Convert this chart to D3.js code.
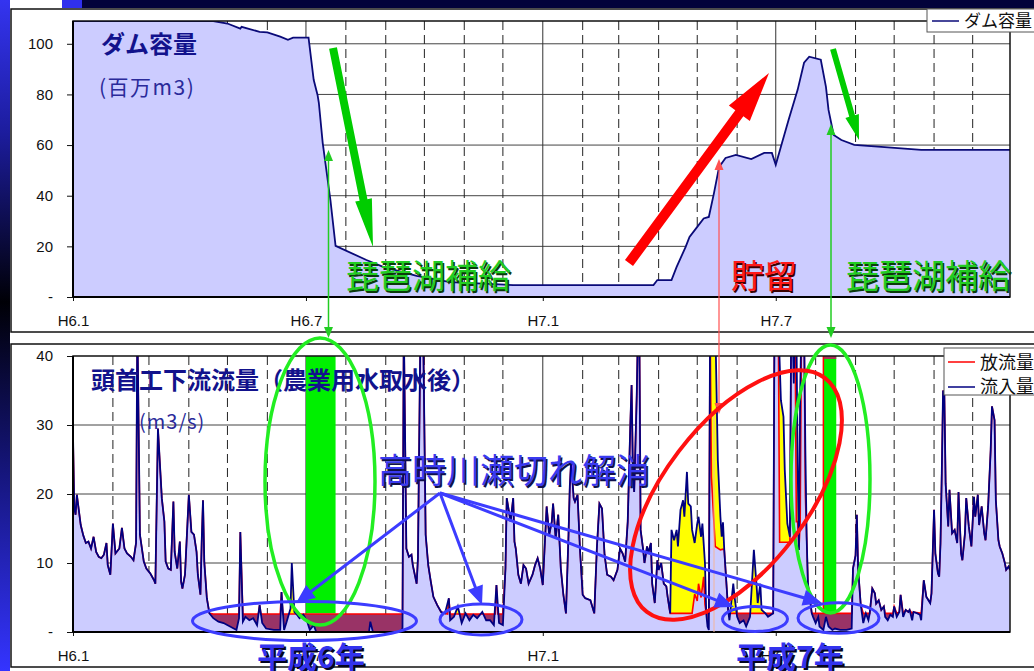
<!DOCTYPE html>
<html><head><meta charset="utf-8">
<script src="https://cdn.jsdelivr.net/npm/d3@7"></script>
<style>body{margin:0;background:#fff;}svg{display:block;}</style>
</head><body>
<svg id="c" width="1034" height="671"></svg>
<script>
// ---------------- DATA ----------------
// day offsets from H6.1 (1994-01-01)
const monthStarts = [0,31,59,90,120,151,181,212,243,273,304,334,365,396,424,455,485,516,546,577,608,638,669,699];
const halfYearTicks = [0,181,365,546];
const halfYearLabels = ["H6.1","H6.7","H7.1","H7.7"];
const damTicks = [0,20,40,60,80,100];
const flowTicks = [0,10,20,30,40];

// ダム容量 (百万m3): [day, value]
const damVolume = [[0,109],[109,109],[120,108],[130,106],[131,106.7],[145,104.7],[151,104.5],[161,102.8],[167,101.6],[171,102.4],[183,102.4],[187,85.8],[190,79.8],[191,76.7],[194,60.9],[200,38.3],[204,20.2],[228,14.6],[241,11.9],[267,8.3],[293,5.9],[342,4.7],[451,4.7],[454,6.7],[465,6.7],[469,11.9],[476,19.8],[479,23.7],[485,27.7],[490,31],[494,31.6],[498,41],[502,51.4],[507,54.9],[515,56.1],[527,54.5],[537,56.9],[543,56.9],[546,52.2],[550,59.3],[556,70],[563,81.8],[568,92.5],[572,94.9],[581,93.7],[585,83],[587,73.9],[591,64],[597,62],[607,60.1],[628,59.3],[659,58.1],[728,58.1]];

// 流入量 (m3/s): [day, value]
const inflow = [[0,28.5],[1,17.9],[2,17],[3,19.9],[6,15.5],[8,14],[10,12.9],[12,13.1],[14,12.1],[16,13.8],[18,11.6],[20,10.9],[22,10.7],[24,11.2],[26,12.9],[27,9.7],[29,8.3],[31,15.7],[33,11.4],[36,12.1],[38,15.1],[40,12.1],[42,11.4],[45,10.9],[47,10.4],[49,12.9],[50,45],[52,14.1],[55,10.2],[57,9.2],[60,8.5],[63,7.5],[64,7],[66,29.5],[68,22.8],[69,19.4],[71,16],[72,10.2],[74,9.2],[76,9],[78,18.9],[79,11.6],[81,9.2],[83,13.1],[84,7.3],[85,6.3],[87,8.3],[89,16],[90,19.9],[92,14.5],[94,14.1],[96,11.6],[97,8.3],[99,5.4],[100,13.1],[101,19.1],[102,10.2],[104,4.9],[106,2.7],[109,2],[113,1.5],[117,1.3],[122,0.8],[127,0.3],[129,2],[130,14.5],[132,1.5],[134,2.2],[137,1.7],[140,2],[143,1],[145,3.9],[147,1.3],[150,0.5],[156,0.3],[161,0.3],[162,5.8],[164,0.3],[166,1.5],[169,3.4],[170,10],[172,2.9],[174,2.5],[176,2],[179,2.5],[182,1.5],[184,0.3],[187,1],[189,0],[230,0],[231,1.5],[233,0],[254,0],[256,0.5],[257,45],[259,12.1],[261,10.9],[263,11.2],[264,9.7],[267,7],[268,10.7],[270,45],[272,45],[274,14.1],[276,9.7],[278,7.3],[280,5.1],[283,3.9],[286,2.9],[289,2.7],[292,4.9],[293,1.7],[296,2.2],[299,3.7],[302,1.3],[305,2.7],[308,1.7],[311,2.5],[314,2],[318,2.9],[321,1.7],[324,1.7],[327,1],[329,6.8],[331,1.3],[334,1],[336,9.2],[337,19.4],[340,16],[342,19.4],[343,13.1],[344,12.1],[346,8.3],[348,7],[350,9.7],[352,9.2],[354,7],[357,8.3],[359,9.7],[361,10.7],[363,9.2],[365,6.8],[368,18.2],[370,14.1],[372,16],[373,18.6],[375,13.6],[377,17],[379,9.2],[381,5.4],[383,2.7],[385,14.1],[386,21.1],[387,24.7],[389,19.4],[390,18.9],[392,19.9],[394,11.6],[396,5.4],[398,4.9],[402,4.6],[405,2.7],[407,12.1],[409,18.6],[411,17.9],[413,11.2],[415,8.3],[418,8],[420,7.5],[423,9],[425,12.1],[427,11.4],[429,10.2],[431,16],[433,30],[434,35.8],[435,23.7],[436,20.3],[438,34.3],[439,45],[440,45],[441,14.8],[443,11.9],[444,10],[446,12.4],[447,11.4],[449,12.9],[450,7],[452,4.2],[454,10.4],[455,9],[457,10],[459,7],[461,6.6],[462,5.1],[464,2.7],[465,14.8],[467,13.3],[469,14.8],[470,12.4],[472,17.7],[474,19.1],[475,16.7],[477,23.2],[478,18.6],[480,18.2],[481,14.8],[483,12.9],[485,15.7],[486,16.7],[488,13.8],[489,15.7],[491,10],[492,2.7],[493,0.8],[494,0.3],[495,45],[499,45],[501,24.9],[503,16.7],[504,13.8],[505,15.9],[506,11.9],[508,6.1],[509,3.2],[510,1.7],[513,7],[514,5.1],[516,2.2],[518,1.3],[521,1.7],[523,0.8],[526,2.2],[529,11.9],[531,7],[532,4.2],[534,7],[535,3.2],[538,2.7],[540,2.2],[544,2.7],[545,45],[548,45],[550,33.6],[552,31.2],[553,23.5],[555,15.7],[557,13.8],[558,45],[559,45],[560,36],[561,45],[562,45],[563,24.4],[564,11.9],[565,35],[566,45],[568,45],[569,26.4],[570,13.8],[571,7],[573,4.2],[574,2.7],[575,2.2],[577,1.3],[579,2.2],[580,0.8],[583,0.3],[585,2.2],[587,0.8],[590,0.3],[592,0.5],[596,0.3],[601,0.3],[605,0.5],[606,9.2],[608,11.1],[609,17],[610,9.2],[612,4],[614,1.3],[616,2.7],[618,1.7],[619,2.7],[621,6.3],[623,5.6],[624,4.1],[626,4.6],[628,3.2],[630,3.7],[631,2.2],[633,1.7],[635,2.5],[637,2.2],[638,3.7],[640,2.2],[642,2.9],[643,5.4],[645,2.2],[647,3.2],[649,2.9],[650,3.2],[652,1.7],[653,2.9],[656,2.7],[658,2.5],[659,1.7],[661,7.5],[663,5.1],[666,4.2],[667,5.6],[669,17.7],[670,11.4],[672,8.5],[673,8],[674,12.9],[675,23],[676,35],[677,34.3],[678,21.5],[680,15.3],[681,20.6],[683,14.3],[685,14.8],[687,12.9],[688,20.3],[690,11.4],[691,10.4],[693,14.3],[694,19.4],[696,15.3],[698,12.4],[700,19.6],[701,16.7],[703,19.9],[704,15.5],[706,18.2],[708,14.3],[709,13.3],[711,18.2],[713,26.4],[714,32.7],[716,30.7],[717,19.1],[719,13.3],[720,12.4],[722,11.4],[724,10],[725,9],[727,9.5],[728,9]];

// 放流量 (m3/s): equal to 流入量 except in these periods, where it was read separately
const releaseDrought94a = [[106,2.7],[109,2.6],[129,2.6],[130,14.5],[132,2.6],[144,2.6],[145,3.9],[146,2.6],[161,2.6],[162,5.8],[163,2.6],[256,2.6]];
const releaseDrought94b = [[283,3.9],[286,2.9],[289,2.7],[291,2.6],[292,4.9],[293,2.6],[328,2.6],[329,6.8],[330,2.6],[334,2.6]];
const releaseStorage95a = [[462,5.1],[464,2.7],[481,2.7],[483,5.5],[485,4.5],[486,7],[488,5],[490,8],[491,4],[492,2.7],[494,2.7],[495,45],[496,22.5],[499,12.4],[503,11.9],[505,12]];
const releaseDrought95a = [[509,3.2],[510,2.7],[544,2.7]];
const releaseStorage95b = [[545,45],[548,45],[549,13],[557,13],[558,45],[561,45],[562,16],[563,16],[564,11.9],[565,16],[566,45],[568,45],[569,20],[570,13.8],[571,7],[573,4.2]];
const releaseDrought95b = [[574,2.7],[605,2.7]];
const releaseLate95a = [[612,4],[614,2.7],[619,2.7],[621,6.3]];
const releaseLate95b = [[631,2.7],[637,2.7],[638,3.7],[640,2.7],[642,2.9],[643,5.4],[645,2.7],[647,3.2],[649,2.9],[650,3.2],[652,2.7],[653,2.9],[659,2.7]];
const releasePeriods = [releaseDrought94a,releaseDrought94b,releaseStorage95a,releaseDrought95a,releaseStorage95b,releaseDrought95b,releaseLate95a,releaseLate95b];

// 琵琶湖補給 periods (off-scale release), [startDay, endDay], base value
const biwaSupply = [[181,204],[583,593]];
const biwaBase = 2.7;

// ---------------- BUILD ----------------
const release = inflow
  .filter(([d]) => !releasePeriods.some(s => d >= s[0][0] && d <= s[s.length-1][0]))
  .concat(...releasePeriods)
  .sort((a,b) => a[0]-b[0]);

const svg = d3.select('#c');
const defs = svg.append('defs');
const JP = '"Noto Sans CJK JP","Noto Sans CJK SC",sans-serif';
const LAT = '"Liberation Sans",Arial,sans-serif';

const X0 = 73, X1 = 1010;
const x = d3.scaleLinear().domain([0,728]).range([X0,X1]);
const yT = d3.scaleLinear().domain([0,109]).range([297,21]);
const yB = d3.scaleLinear().domain([0,40]).range([632,356]);

// background decorations
const lg = defs.append('linearGradient').attr('id','lg').attr('x1',0).attr('y1',0).attr('x2',0).attr('y2',1);
lg.append('stop').attr('offset','0').attr('stop-color','#3434f0');
lg.append('stop').attr('offset','0.2').attr('stop-color','#1c1c9c');
lg.append('stop').attr('offset','0.45').attr('stop-color','#000006');
lg.append('stop').attr('offset','0.7').attr('stop-color','#15157a');
lg.append('stop').attr('offset','1').attr('stop-color','#3434ff');
svg.append('rect').attr('x',0).attr('y',0).attr('width',10).attr('height',671).attr('fill','url(#lg)');
svg.append('rect').attr('x',62).attr('y',0).attr('width',20).attr('height',8).attr('fill','#3030ee');
svg.append('rect').attr('x',82).attr('y',0).attr('width',952).attr('height',8).attr('fill','#02023a');

// frames
[[9,323],[344,323]].forEach(([yy,h]) => svg.append('rect').attr('x',11).attr('y',yy).attr('width',1040).attr('height',h)
  .attr('fill','#fff').attr('stroke','#111').attr('stroke-width',1.5));

function clip(id, yScale){
  const [b,t] = yScale.range();
  defs.append('clipPath').attr('id',id).append('rect').attr('x',X0).attr('y',t).attr('width',X1-X0).attr('height',b-t);
}
clip('cT', yT); clip('cB', yB);

function drawGrid(yScale, ticks){
  const [b,t] = yScale.range();
  const g = svg.append('g');
  ticks.filter(v => v > 0 && yScale(v) > t + 1).forEach(v => g.append('line')
    .attr('x1',X0).attr('x2',X1).attr('y1',yScale(v)).attr('y2',yScale(v)).attr('stroke','#444').attr('stroke-width',1));
  monthStarts.filter(d => d > 0).forEach(d => {
    const major = halfYearTicks.includes(d);
    g.append('line').attr('x1',x(d)).attr('x2',x(d)).attr('y1',t).attr('y2',b)
      .attr('stroke', major ? '#333' : '#222').attr('stroke-width',1)
      .attr('stroke-dasharray', major ? null : '9,5');
  });
}
function drawAxes(yScale, ticks){
  const [b,t] = yScale.range();
  const ay = svg.append('g').attr('transform',`translate(${X0},0)`)
    .call(d3.axisLeft(yScale).tickValues(ticks).tickFormat(v => v === 0 ? '-' : v).tickSize(6).tickPadding(14));
  ay.select('.domain').remove();
  ay.attr('font-size',15).attr('font-family',LAT);
  ay.selectAll('text').attr('fill','#111');
  ay.selectAll('line').attr('stroke','#111');
  const ax = svg.append('g').attr('transform',`translate(0,${b})`)
    .call(d3.axisBottom(x).tickValues(halfYearTicks).tickFormat((d,i) => halfYearLabels[i]).tickSize(4).tickPadding(14));
  ax.select('.domain').remove();
  ax.attr('font-size',15).attr('font-family',LAT);
  ax.selectAll('text').attr('fill','#111');
  ax.selectAll('line').attr('stroke','#111');
  svg.append('rect').attr('x',X0).attr('y',t).attr('width',X1-X0).attr('height',b-t)
    .attr('fill','none').attr('stroke','#111').attr('stroke-width',1.5);
  svg.append('line').attr('x1',X0).attr('x2',X0).attr('y1',t).attr('y2',b).attr('stroke','#000').attr('stroke-width',2);
  svg.append('line').attr('x1',X0).attr('x2',X1).attr('y1',b).attr('y2',b).attr('stroke','#000').attr('stroke-width',2);
}

// ---------- TOP PANEL ----------
drawGrid(yT, damTicks);
const gT = svg.append('g').attr('clip-path','url(#cT)');
gT.append('path').datum(damVolume)
  .attr('d', d3.area().x(d => x(d[0])).y0(yT(0)).y1(d => yT(d[1])))
  .attr('fill','#ccccff');
gT.append('path').datum(damVolume)
  .attr('d', d3.line().x(d => x(d[0])).y(d => yT(d[1])))
  .attr('fill','none').attr('stroke','#0a0a78').attr('stroke-width',1.8);
drawAxes(yT, damTicks);

// ---------- BOTTOM PANEL ----------
drawGrid(yB, flowTicks);
const areaGen = d3.area().x(d => x(d[0])).y0(yB(0)).y1(d => yB(d[1]));
const lineGen = d3.line().x(d => x(d[0])).y(d => yB(d[1]));
defs.append('clipPath').attr('id','relClip').append('path').attr('d', areaGen(release));
const gB = svg.append('g').attr('clip-path','url(#cB)');
gB.append('path').attr('d', areaGen(release)).attr('fill','#993366');
gB.append('path').attr('d', areaGen(inflow)).attr('fill','#ffff00');
gB.append('path').attr('d', areaGen(inflow)).attr('fill','#ccccff').attr('clip-path','url(#relClip)');
biwaSupply.forEach(([s,e], i) => {
  gB.append('rect').attr('x',x(s)).attr('width',x(e)-x(s)).attr('y',yB(40)).attr('height',yB(biwaBase)-yB(40)).attr('fill','#00f000');
  if (i === 1) {
    gB.append('rect').attr('x',x(s)).attr('width',x(e)-x(s)).attr('y',yB(40)).attr('height',3).attr('fill','#aa3355');
    gB.append('line').attr('x1',x(s)).attr('x2',x(s)).attr('y1',yB(40)).attr('y2',yB(biwaBase)).attr('stroke','#ff0000').attr('stroke-width',1.5);
  }
});
gB.append('path').attr('d', lineGen(release)).attr('fill','none').attr('stroke','#ff0000').attr('stroke-width',1.6);
gB.append('path').attr('d', lineGen(inflow)).attr('fill','none').attr('stroke','#000080').attr('stroke-width',1.8);
drawAxes(yB, flowTicks);

// ---------- LEGENDS ----------
svg.append('rect').attr('x',927).attr('y',9).attr('width',120).attr('height',23).attr('fill','#fff').attr('stroke','#555').attr('stroke-width',1);
svg.append('line').attr('x1',932).attr('x2',959).attr('y1',21).attr('y2',21).attr('stroke','#0a0a78').attr('stroke-width',1.5);
svg.append('text').attr('x',964).attr('y',27).attr('font-size',17).attr('font-family',JP).attr('fill','#111').text('ダム容量');
svg.append('rect').attr('x',944).attr('y',348).attr('width',100).attr('height',47).attr('fill','#fff').attr('stroke','#555').attr('stroke-width',1);
svg.append('line').attr('x1',948).attr('x2',975).attr('y1',362).attr('y2',362).attr('stroke','#ff0000').attr('stroke-width',1.5);
svg.append('line').attr('x1',948).attr('x2',975).attr('y1',387).attr('y2',387).attr('stroke','#000080').attr('stroke-width',1.5);
svg.append('text').attr('x',980).attr('y',369).attr('font-size',18).attr('font-family',JP).attr('fill','#111').text('放流量');
svg.append('text').attr('x',980).attr('y',393).attr('font-size',18).attr('font-family',JP).attr('fill','#111').text('流入量');

// ---------- ANNOTATIONS ----------
const ann = svg.append('g');
function poly(pts, fill){ ann.append('polygon').attr('points', pts.map(p => p.join(',')).join(' ')).attr('fill', fill); }
function arrow(x1,y1,x2,y2,sw,hl,hw,fill){
  const dx=x2-x1, dy=y2-y1, L=Math.hypot(dx,dy), ux=dx/L, uy=dy/L, px=-uy, py=ux;
  const bx=x2-ux*hl, by=y2-uy*hl;
  poly([[x1+px*sw/2,y1+py*sw/2],[bx+px*sw/2,by+py*sw/2],[bx+px*hw/2,by+py*hw/2],[x2,y2],
        [bx-px*hw/2,by-py*hw/2],[bx-px*sw/2,by-py*sw/2],[x1-px*sw/2,y1-py*sw/2]], fill);
}
function thinDouble(xx,y1,y2,color,w,hl,hw){
  ann.append('line').attr('x1',xx).attr('x2',xx).attr('y1',y1+hl-1).attr('y2',y2-hl+1).attr('stroke',color).attr('stroke-width',w);
  poly([[xx,y1],[xx-hw/2,y1+hl],[xx+hw/2,y1+hl]], color);
  poly([[xx,y2],[xx-hw/2,y2-hl],[xx+hw/2,y2-hl]], color);
}
function shadowText(t, xx, yy, size, color, shadow, weight, off){
  [[off,off,shadow],[0,0,color]].forEach(([ox,oy,c]) => ann.append('text').attr('x',xx+ox).attr('y',yy+oy)
    .attr('font-size',size).attr('font-family',JP).attr('font-weight',weight).attr('fill',c).text(t));
}

// panel titles
ann.append('text').attr('x',101).attr('y',53).attr('font-size',24).attr('font-weight','bold').attr('font-family',JP).attr('fill','#12128c').text('ダム容量');
ann.append('text').attr('x',99).attr('y',95).attr('font-size',21).attr('font-family',JP).attr('fill','#2a2a9a').attr('letter-spacing',1.5).text('(百万m3)');
ann.append('text').attr('x',91).attr('y',389).attr('font-size',24).attr('font-weight','bold').attr('font-family',JP).attr('fill','#12128c').text('頭首工下流流量（農業用水取水後）');
ann.append('text').attr('x',139).attr('y',429).attr('font-size',20).attr('font-family',JP).attr('fill','#2a2a9a').attr('letter-spacing',1).text('(m3/s)');

// top arrows
arrow(333,48,373,247,8,48,17,'#00cc00');
arrow(833,49,859,140,6,25,14,'#00cc00');
arrow(629,263,769,73,10,50,26,'#ff0000');
thinDouble(328.5,150,338,'#22cc22',1.5,11,9);
thinDouble(831,124,338,'#22cc22',1.5,11,9);
ann.append('line').attr('x1',714).attr('x2',714).attr('y1',415).attr('y2',632).attr('stroke','#f2b49c').attr('stroke-width',1);
thinDouble(719,159,414,'#ff5050',1.2,11,9);

shadowText('琵琶湖補給',346,288,33,'#22cc22','#0b3a0b','normal',1.5);
shadowText('琵琶湖補給',846,288,33,'#22cc22','#0b3a0b','normal',1.5);
shadowText('貯留',731,288,33,'#ff1a1a','#3a0000','normal',1.5);

// ellipses
ann.append('ellipse').attr('cx',320).attr('cy',481.5).attr('rx',55).attr('ry',143.5).attr('fill','none').attr('stroke','#22ee22').attr('stroke-width',3.5);
ann.append('ellipse').attr('cx',830.5).attr('cy',479).attr('rx',39.5).attr('ry',134).attr('fill','none').attr('stroke','#22ee22').attr('stroke-width',3.5);
ann.append('ellipse').attr('cx',0).attr('cy',0).attr('rx',147).attr('ry',72).attr('transform','translate(736,495) rotate(-52.7)')
  .attr('fill','none').attr('stroke','#ff1010').attr('stroke-width',4);
[[304.5,621,112,19.5],[481,619.5,41,15.5],[755,619,32.5,12.5],[838.5,618,40.5,15.3]].forEach(([cx,cy,rx,ry]) =>
  ann.append('ellipse').attr('cx',cx).attr('cy',cy).attr('rx',rx).attr('ry',ry).attr('fill','none').attr('stroke','#3c3cff').attr('stroke-width',3));

// blue arrows
[[296,603],[482,605],[734,607],[822,603]].forEach(([tx,ty]) => arrow(440,493,tx,ty,3,19,16,'#3c3cff'));

shadowText('高時川瀬切れ解消',378,483,34,'#3a3af0','#10104a','normal',1.5);
shadowText('平成6年',257,668,30,'#3333ee','#050520','bold',2);
shadowText('平成7年',736,668,30,'#3333ee','#050520','bold',2);
</script>
</body></html>
